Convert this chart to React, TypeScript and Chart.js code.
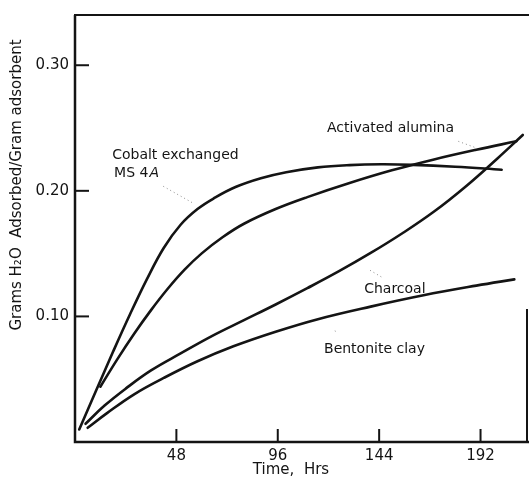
import React, { useEffect, useRef } from "react";
import { Chart, registerables } from "chart.js";

Chart.register(...registerables);

// ---- data (hours, grams H2O / gram adsorbent) ----
const cobaltHours = [2, 10, 18, 26, 34, 42, 50, 58, 66, 76, 88, 100, 115, 130, 145, 160, 180, 202];
const cobaltValues = [0.01, 0.041, 0.0718, 0.1015, 0.1295, 0.1545, 0.173, 0.1855, 0.1943, 0.203, 0.21, 0.2148, 0.2187, 0.2205, 0.2211, 0.2207, 0.2192, 0.2168];

const aluminaHours = [12, 20, 28, 36, 44, 52, 60, 70, 80, 95, 110, 130, 150, 170, 190, 209];
const aluminaValues = [0.044, 0.0658, 0.0862, 0.105, 0.1222, 0.1374, 0.1502, 0.1632, 0.1738, 0.1855, 0.195, 0.2062, 0.2163, 0.225, 0.2327, 0.2394];

const charcoalHours = [5, 14, 24, 36, 50, 65, 80, 95, 110, 125, 140, 155, 170, 185, 200, 212];
const charcoalValues = [0.0145, 0.029, 0.0425, 0.057, 0.0705, 0.0845, 0.097, 0.1095, 0.1225, 0.136, 0.1505, 0.1662, 0.1835, 0.2035, 0.2258, 0.2445];

const bentoniteHours = [6, 15, 28, 42, 58, 75, 95, 115, 140, 165, 190, 208];
const bentoniteValues = [0.0113, 0.0228, 0.038, 0.051, 0.0643, 0.0762, 0.0878, 0.0978, 0.1078, 0.1168, 0.1245, 0.1295];

const xTickValues = [48, 96, 144, 192];
const yTickValues = [0.1, 0.2, 0.3];

const xTitle = "Time,  Hrs";
const yTitle = "Grams H\u2082O  Adsorbed/Gram adsorbent";

// curve labels, anchored in data coordinates (left edge, vertical middle)
const curveLabels = [
  { text: "Cobalt exchanged", italic: "", hour: 17.6, value: 0.2283 },
  { text: "MS 4", italic: "A", hour: 18.5, value: 0.2139 },
  { text: "Activated alumina", italic: "", hour: 119.3, value: 0.2498 },
  { text: "Charcoal", italic: "", hour: 136.9, value: 0.1215 },
  { text: "Bentonite clay", italic: "", hour: 117.9, value: 0.0737 },
];

// dotted leader lines [hour1, value1, hour2, value2]
const leaders = [
  [41.8, 0.2036, 56.1, 0.19],
  [181.5, 0.2394, 189.1, 0.2347],
  [139.7, 0.1367, 145.4, 0.1311],
  [123.0, 0.0885, 124.5, 0.0872],
];

const FONT = "'DejaVu Sans', sans-serif";
const INK = "#141414";

const toPoints = (xs: number[], ys: number[]) => xs.map((x, i) => ({ x, y: ys[i] }));

const framePlugin = {
  id: "framePlugin",
  afterDraw(chart: any) {
    const { ctx, chartArea } = chart;
    const xs = chart.scales.x;
    const ys = chart.scales.y;
    const { left, right, top, bottom } = chartArea;
    ctx.save();
    ctx.strokeStyle = INK;
    ctx.lineCap = "butt";

    // axes frame
    ctx.lineWidth = 2.5;
    ctx.beginPath();
    ctx.moveTo(left, top);
    ctx.lineTo(left, bottom);
    ctx.lineTo(right + 2, bottom);
    ctx.stroke();
    ctx.lineWidth = 2;
    ctx.beginPath();
    ctx.moveTo(left - 1, top);
    ctx.lineTo(right + 2, top);
    ctx.stroke();
    // right border (only lower part visible in the original)
    ctx.beginPath();
    ctx.moveTo(right, ys.getPixelForValue(0.106));
    ctx.lineTo(right, bottom);
    ctx.stroke();

    // inward tick marks
    ctx.lineWidth = 2;
    for (const v of yTickValues) {
      const py = ys.getPixelForValue(v);
      ctx.beginPath();
      ctx.moveTo(left, py);
      ctx.lineTo(left + 14, py);
      ctx.stroke();
    }
    for (const v of xTickValues) {
      const px = xs.getPixelForValue(v);
      ctx.beginPath();
      ctx.moveTo(px, bottom);
      ctx.lineTo(px, bottom - 13);
      ctx.stroke();
    }

    // leaders
    ctx.strokeStyle = "#8a8a8a";
    ctx.lineWidth = 1;
    ctx.setLineDash([1, 3]);
    for (const [h1, v1, h2, v2] of leaders) {
      ctx.beginPath();
      ctx.moveTo(xs.getPixelForValue(h1), ys.getPixelForValue(v1));
      ctx.lineTo(xs.getPixelForValue(h2), ys.getPixelForValue(v2));
      ctx.stroke();
    }
    ctx.setLineDash([]);

    // curve labels
    ctx.fillStyle = INK;
    ctx.textBaseline = "middle";
    ctx.textAlign = "left";
    for (const lab of curveLabels) {
      const px = xs.getPixelForValue(lab.hour);
      const py = ys.getPixelForValue(lab.value);
      ctx.font = `14px ${FONT}`;
      ctx.fillText(lab.text, px, py);
      if (lab.italic) {
        const w = ctx.measureText(lab.text).width;
        ctx.font = `italic 14px ${FONT}`;
        ctx.fillText(lab.italic, px + w + 1, py);
      }
    }

    // axis titles
    ctx.font = `15px ${FONT}`;
    ctx.textAlign = "center";
    ctx.fillText(xTitle, 291, 470);
    ctx.save();
    ctx.translate(17, 185);
    ctx.rotate(-Math.PI / 2);
    ctx.fillText(yTitle, 0, 0);
    ctx.restore();

    ctx.restore();
  },
};

export default function App() {
  const canvasRef = useRef<HTMLCanvasElement | null>(null);

  useEffect(() => {
    const canvas = canvasRef.current;
    if (!canvas) return;
    const lineStyle = {
      borderColor: INK,
      borderWidth: 2.6,
      pointRadius: 0,
      fill: false,
      tension: 0.4,
      borderCapStyle: "round" as const,
      borderJoinStyle: "round" as const,
    };
    const chart = new Chart(canvas, {
      type: "line",
      data: {
        datasets: [
          { label: "Cobalt exchanged MS 4A", data: toPoints(cobaltHours, cobaltValues), ...lineStyle },
          { label: "Activated alumina", data: toPoints(aluminaHours, aluminaValues), ...lineStyle },
          { label: "Charcoal", data: toPoints(charcoalHours, charcoalValues), ...lineStyle },
          { label: "Bentonite clay", data: toPoints(bentoniteHours, bentoniteValues), ...lineStyle },
        ],
      },
      options: {
        responsive: false,
        animation: false,
        layout: { padding: { top: 14, right: 2, left: 0, bottom: 0 } },
        plugins: { legend: { display: false }, tooltip: { enabled: false } },
        scales: {
          x: {
            type: "linear",
            min: 0,
            max: 214,
            grid: { display: false, drawTicks: false },
            border: { display: false },
            ticks: {
              padding: 5,
              color: INK,
              font: { family: FONT, size: 15 },
              maxRotation: 0,
              autoSkip: false,
              callback: (v: any) => String(v),
            },
            afterBuildTicks: (s: any) => {
              s.ticks = xTickValues.map((v) => ({ value: v }));
            },
            afterFit: (s: any) => {
              s.height = 40;
            },
          },
          y: {
            type: "linear",
            min: 0,
            max: 0.34,
            grid: { display: false, drawTicks: false },
            border: { display: false },
            ticks: {
              padding: 6,
              color: INK,
              font: { family: FONT, size: 15 },
              autoSkip: false,
              callback: (v: any) => Number(v).toFixed(2),
            },
            afterBuildTicks: (s: any) => {
              s.ticks = yTickValues.map((v) => ({ value: v }));
            },
            afterFit: (s: any) => {
              s.width = 75;
            },
          },
        },
      },
      plugins: [framePlugin],
    });
    return () => chart.destroy();
  }, []);

  return (
    <div style={{ position: "absolute", left: 0, top: 0, width: 529, height: 482, background: "#fff" }}>
      <canvas ref={canvasRef} width={529} height={482} style={{ display: "block" }} />
    </div>
  );
}
